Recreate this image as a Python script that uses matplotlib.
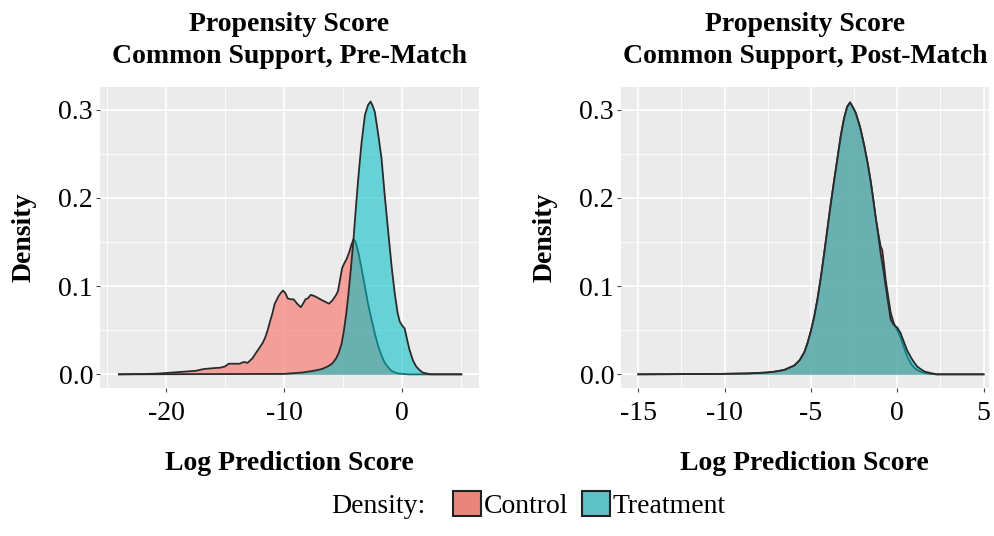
import matplotlib
matplotlib.use("Agg")
import matplotlib.pyplot as plt
from matplotlib.patches import Patch
from matplotlib.ticker import MultipleLocator

plt.rcParams['font.family'] = ['Liberation Serif', 'DejaVu Serif']
plt.rcParams['axes.unicode_minus'] = False

# pre-match densities (log prediction score, density)
pre_treat_x = [-24.0, -10.0, -8.5, -7.5, -6.8, -6.3, -5.95, -5.6, -5.39, -5.15, -4.97, -4.75,
               -4.55, -4.35, -4.13, -3.92, -3.72, -3.45, -3.16, -2.9, -2.68, -2.5, -2.32, -2.05,
               -1.76, -1.5, -1.2, -0.9, -0.64, -0.4, -0.22, 0.0, 0.2, 0.4, 0.61, 0.9, 1.17, 1.45,
               1.73, 2.4, 5.0]
pre_treat_y = [0.0, 0.0005, 0.002, 0.004, 0.006, 0.009, 0.012, 0.018, 0.024, 0.034, 0.047, 0.068,
               0.092, 0.12, 0.153, 0.19, 0.223, 0.262, 0.294, 0.305, 0.309, 0.304, 0.297, 0.273,
               0.245, 0.205, 0.163, 0.122, 0.092, 0.07, 0.06, 0.055, 0.052, 0.04, 0.028, 0.016,
               0.009, 0.005, 0.002, 0.0, 0.0]

pre_ctrl_x = [-24.0, -21.5, -20.5, -19.5, -18.5, -17.5, -16.8, -16.0, -15.4, -15.0, -14.7, -14.2,
              -13.8, -13.4, -13.1, -12.7, -12.4, -12.1, -11.8, -11.6, -11.4, -11.2, -11.0, -10.8,
              -10.5, -10.3, -10.1, -9.9, -9.7, -9.45, -9.2, -8.9, -8.6, -8.4, -8.2, -8.0, -7.75,
              -7.5, -7.2, -6.8, -6.5, -6.2, -5.9, -5.6, -5.45, -5.3, -5.1, -4.9, -4.7, -4.5, -4.3,
              -4.13, -3.95, -3.7, -3.45, -3.16, -2.9, -2.6, -2.3, -2.04, -1.75, -1.48, -1.2, -0.92,
              -0.6, -0.36, 0.5, 5.0]
pre_ctrl_y = [0.0, 0.0005, 0.001, 0.002, 0.003, 0.004, 0.006, 0.007, 0.0075, 0.009, 0.012, 0.012,
              0.012, 0.014, 0.013, 0.018, 0.024, 0.03, 0.036, 0.042, 0.05, 0.06, 0.069, 0.08,
              0.088, 0.092, 0.095, 0.092, 0.086, 0.085, 0.085, 0.08, 0.076, 0.08, 0.085, 0.086, 0.09,
              0.089, 0.087, 0.084, 0.082, 0.08, 0.084, 0.09, 0.094, 0.105, 0.12, 0.126, 0.131, 0.138,
              0.147, 0.153, 0.15, 0.137, 0.12, 0.099, 0.08, 0.062, 0.045, 0.032, 0.021, 0.013, 0.008,
              0.004, 0.002, 0.001, 0.0, 0.0]

# post-match densities
post_treat_x = [-15.0, -12.0, -10.2, -8.65, -7.6, -7.1, -6.54, -5.96, -5.65, -5.38, -5.2, -5.0,
                -4.8, -4.62, -4.42, -4.23, -4.04, -3.85, -3.65, -3.46, -3.27, -3.08, -2.9, -2.73,
                -2.55, -2.4, -2.15, -1.92, -1.72, -1.54, -1.4, -1.25, -1.1, -0.96, -0.8, -0.67,
                -0.5, -0.38, -0.2, 0.0, 0.19, 0.4, 0.58, 0.8, 0.96, 1.15, 1.35, 1.6, 1.92, 2.3, 5.0]
post_treat_y = [0.0, 0.0003, 0.0005, 0.001, 0.002, 0.003, 0.005, 0.01, 0.016, 0.025, 0.035, 0.049,
                0.066, 0.085, 0.11, 0.137, 0.165, 0.193, 0.22, 0.245, 0.27, 0.29, 0.303, 0.308,
                0.302, 0.296, 0.28, 0.26, 0.24, 0.219, 0.2, 0.178, 0.158, 0.137, 0.118, 0.1,
                0.078, 0.062, 0.056, 0.053, 0.047, 0.036, 0.027, 0.019, 0.014, 0.009, 0.006, 0.003,
                0.0015, 0.0, 0.0]

post_ctrl_x = [-15.0, -12.0, -10.2, -8.65, -7.6, -7.1, -6.54, -5.96, -5.65, -5.38, -5.2, -5.0,
               -4.8, -4.62, -4.42, -4.23, -4.04, -3.85, -3.65, -3.46, -3.27, -3.08, -2.9, -2.73,
               -2.55, -2.4, -2.15, -1.92, -1.72, -1.54, -1.4, -1.25, -1.1, -0.96, -0.87, -0.77,
               -0.67, -0.5, -0.38, -0.2, 0.0, 0.19, 0.4, 0.58, 0.8, 0.96, 1.15, 1.35, 1.6, 1.92,
               2.3, 5.0]
post_ctrl_y = [0.0, 0.0003, 0.0005, 0.001, 0.002, 0.003, 0.005, 0.01, 0.016, 0.025, 0.035, 0.049,
               0.066, 0.085, 0.11, 0.137, 0.165, 0.193, 0.22, 0.245, 0.27, 0.29, 0.303, 0.308,
               0.302, 0.296, 0.28, 0.26, 0.24, 0.219, 0.2, 0.178, 0.16, 0.145, 0.141, 0.125,
               0.107, 0.085, 0.07, 0.058, 0.05, 0.042, 0.03, 0.02, 0.012, 0.008, 0.005, 0.003,
               0.0015, 0.0005, 0.0, 0.0]

titles = ["Propensity Score\nCommon Support, Pre-Match",
          "Propensity Score\nCommon Support, Post-Match"]
group_names = ["Control", "Treatment"]
ctrl_col = "#F8766D"
treat_col = "#00BFC4"

fig = plt.figure(figsize=(9.94, 5.36), dpi=100)
ax1 = fig.add_axes([0.1006, 0.2761, 0.3813, 0.5616])
ax2 = fig.add_axes([0.6247, 0.2761, 0.3700, 0.5616])

panels = [
    (ax1, pre_ctrl_x, pre_ctrl_y, pre_treat_x, pre_treat_y, (-25.6, 6.5), 10, 5),
    (ax2, post_ctrl_x, post_ctrl_y, post_treat_x, post_treat_y, (-16.0, 5.3), 5, 2.5),
]

for i, (ax, cx, cy, tx, ty, xlim, major, minor) in enumerate(panels):
    ax.set_facecolor("#EBEBEB")
    ax.fill_between(cx, cy, 0, color=ctrl_col, alpha=0.66, lw=0, zorder=2)
    ax.plot(cx, cy, color="#2b2b2b", lw=1.3, zorder=3)
    ax.fill_between(tx, ty, 0, color=treat_col, alpha=0.56, lw=0, zorder=4)
    ax.plot(tx, ty, color="#2b2b2b", lw=1.3, zorder=5)

    ax.set_xlim(*xlim)
    ax.set_ylim(-0.0155, 0.3255)
    ax.xaxis.set_major_locator(MultipleLocator(major))
    ax.xaxis.set_minor_locator(MultipleLocator(minor))
    ax.yaxis.set_major_locator(MultipleLocator(0.1))
    ax.yaxis.set_minor_locator(MultipleLocator(0.05))
    ax.set_yticks([0.0, 0.1, 0.2, 0.3])
    ax.set_yticklabels(["0.0", "0.1", "0.2", "0.3"])
    ax.grid(which="major", color="white", lw=1.2, zorder=0)
    ax.grid(which="minor", color="white", lw=0.6, zorder=0)
    ax.set_axisbelow(True)
    for s in ax.spines.values():
        s.set_visible(False)
    ax.tick_params(which="major", length=3, width=0.8, color="#444444",
                   labelsize=20, labelcolor="black")
    ax.tick_params(axis="x", which="major", pad=6)
    ax.tick_params(axis="y", which="major", pad=2)
    ax.tick_params(which="minor", length=0)

    ax.set_title(titles[i], fontsize=20, fontweight="bold", pad=17, linespacing=1.38)
    ax.set_xlabel("Log Prediction Score", fontsize=20, fontweight="bold", labelpad=18)
    ax.set_ylabel("Density", fontsize=20, fontweight="bold", labelpad=16)

# legend along the bottom
fig.text(0.381, 0.032, "Density:", fontsize=20, ha="center", va="bottom")
handles = [Patch(facecolor="#EA857C", edgecolor="#222222", lw=1.5),
           Patch(facecolor="#5EC1C5", edgecolor="#222222", lw=1.5)]
fig.legend(handles, group_names, ncol=2, loc="center", bbox_to_anchor=(0.593, 0.058),
           frameon=False, fontsize=20, handlelength=1.0, handleheight=1.0,
           handletextpad=0.1, columnspacing=0.5, borderpad=0)

fig.savefig("out.png", dpi=100)
